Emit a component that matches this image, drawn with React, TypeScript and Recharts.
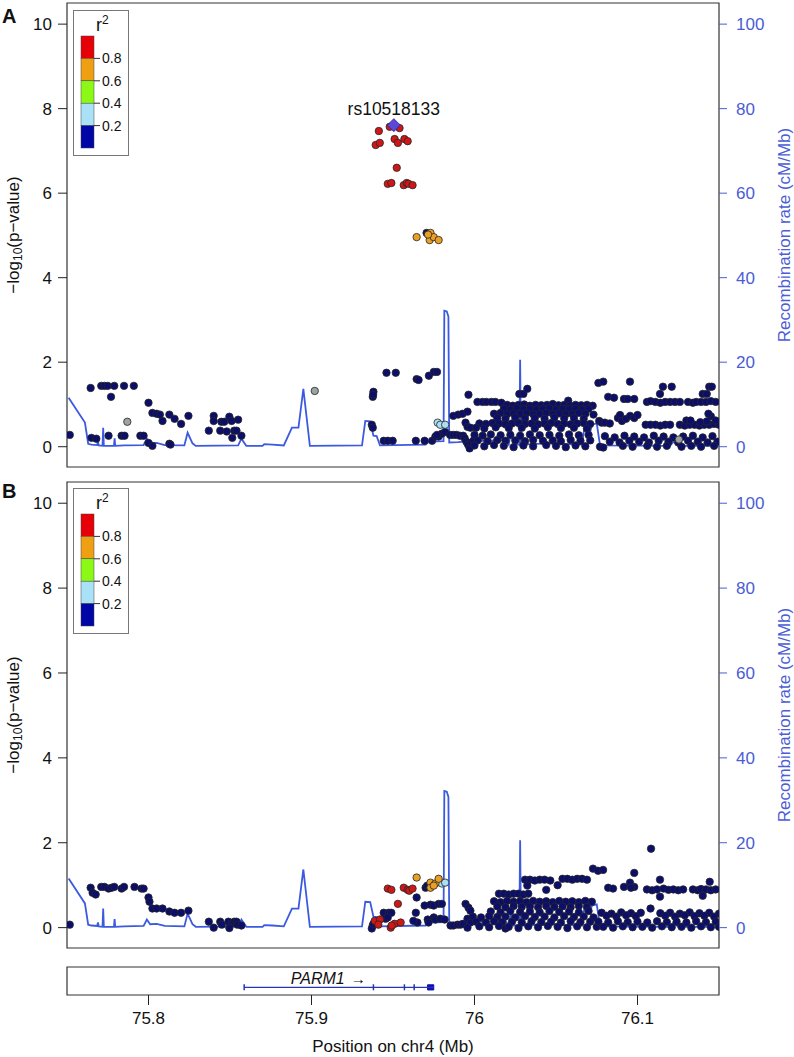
import React from 'react';
import { ComposedChart, Scatter, Line, XAxis, YAxis, ReferenceArea, ReferenceDot, Legend, Label } from 'recharts';

const FONT = '"Liberation Sans", Arial, Helvetica, sans-serif';
type P = [number, number];

// ---------- axes ----------
const xDomain: [number, number] = [75.75, 76.15];
const xTicks = [75.8, 75.9, 76, 76.1];
const pDomain: [number, number] = [-0.48, 10.5];
const pTicks = [0, 2, 4, 6, 8, 10];
const rDomain: [number, number] = [-4.8, 105];
const rTicks = [0, 20, 40, 60, 80, 100];
const legendLabels = ['0.8', '0.6', '0.4', '0.2'];
const legendColors = ['#e60008', '#ef9f12', '#8cf816', '#a9e1f7', '#0006a6'];

// ---------- recombination rate (cM/Mb) ----------
const recombPos = [75.751, 75.761, 75.763, 75.765, 75.7685, 75.769, 75.7695, 75.7718, 75.7722, 75.7726, 75.7788, 75.7792, 75.7796, 75.785, 75.797, 75.799, 75.801, 75.805, 75.81, 75.822, 75.824, 75.827, 75.829, 75.855, 75.857, 75.86, 75.87, 75.871, 75.876, 75.883, 75.888, 75.892, 75.895, 75.899, 75.931, 75.933, 75.936, 75.938, 75.94, 75.942, 75.97, 75.972, 75.981, 75.9815, 75.983, 75.984, 75.9845, 75.99, 75.997, 76.005, 76.019, 76.021, 76.0225, 76.024, 76.0275, 76.028, 76.0285, 76.045, 76.066, 76.068, 76.071, 76.072, 76.075, 76.077, 76.12, 76.122, 76.125, 76.15];
const recombRate = [11.6, 5.7, 0.7, 0.5, 0.4, 1.2, 0.3, 0.2, 4.5, 0.2, 0.2, 2.0, 0.2, 0.3, 0.4, 1.9, 0.8, 0.9, 0.4, 0.3, 3.3, 0.8, 0.2, 0.3, 1.9, 0.2, 0.2, 0.6, 0.5, 0.3, 4.5, 4.5, 13.7, 0.2, 0.3, 6.1, 6.0, 2.6, 2.5, 0.3, 0.5, 1.2, 1.3, 32.2, 32.0, 30.8, 1.0, 1.1, 1.3, 1.4, 1.6, 0.5, 4.0, 0.5, 0.5, 20.6, 0.5, 0.8, 0.5, 6.4, 3.5, 5.2, 5.5, 0.3, 0.2, 1.2, 0.2, 0.2];

// ---------- panel A ----------
const indexSnpName = 'rs10518133';
const A_index: P[] = [[75.9505, 7.61]];
const A_red: P[] = [[75.9413, 7.47], [75.948, 7.57], [75.954, 7.54], [75.9394, 7.14], [75.9419, 7.19], [75.951, 7.28], [75.953, 7.19], [75.957, 7.28], [75.959, 7.23], [75.9523, 6.6], [75.9468, 6.22], [75.949, 6.24], [75.9566, 6.19], [75.9584, 6.24], [75.9596, 6.22], [75.962, 6.19]];
const A_orange: P[] = [[75.9645, 4.96], [75.973, 5.06], [75.9725, 4.89], [75.975, 4.96], [75.978, 4.89], [75.9715, 5.02]];
const A_lblue: P[] = [[75.9774, 0.57], [75.979, 0.52], [75.982, 0.52]];
const A_gray: P[] = [[75.787, 0.59], [75.902, 1.32], [76.1254, 0.17]];
const A_navy: P[] = [
  [75.7517, 0.28], [75.7645, 1.39], [75.765, 0.21], [75.768, 0.19], [75.771, 1.44], [75.773, 1.44], [75.775, 1.44], [75.779, 1.44], [75.777, 1.18], [75.7755, 0.26], [75.7835, 0.26], [75.7853, 0.26], [75.785, 1.44], [75.791, 1.44], [75.795, 0.26], [75.797, 0.26], [75.8, 1.04], [75.8, 0.09], [75.8024, 0.02], [75.8024, 0.8], [75.805, 0.78], [75.807, 0.76], [75.8086, 0.61], [75.8128, 0.76], [75.816, 0.66], [75.82, 0.54], [75.8245, 0.73], [75.8128, 0.07], [75.8135, 0.05], [75.837, 0.38], [75.84, 0.73], [75.84, 0.61], [75.844, 0.38], [75.8447, 0.59], [75.8465, 0.59], [75.848, 0.36], [75.8496, 0.71], [75.851, 0.61], [75.8526, 0.38], [75.854, 0.38], [75.8514, 0.21], [75.855, 0.64], [75.857, 0.26],
  [75.9376, 1.18], [75.938, 1.3], [75.9378, 1.23], [75.937, 0.52], [75.9376, 0.45], [75.9443, 0.14], [75.9468, 0.14], [75.9498, 0.14], [75.946, 1.75], [75.9517, 1.75], [75.9645, 1.6], [75.9657, 1.58], [75.972, 1.68], [75.975, 1.77], [75.977, 1.77], [75.964, 0.14], [75.9694, 0.14], [75.974, 0.14], [75.976, 0.24], [75.978, 0.24], [75.98, 0.31], [75.982, 0.35], [75.977, 0.28], [75.9706, 5.06],
  [75.987, 0.73], [75.99, 0.76], [75.9927, 0.78], [75.9957, 0.83], [75.9963, 1.23], [75.9945, 0.57], [75.9957, 0.47], [75.9975, 0.45],
  [75.985, 0.28], [75.987, 0.28], [75.989, 0.28], [75.991, 0.26], [75.993, 0.26], [75.994, 0.2], [75.995, 0.12], [75.996, 0.05], [75.997, -0.04], [75.998, 0.1], [75.9995, 0.15],
  [76.0018, 1.06], [76.0049, 1.06], [76.0073, 1.06], [76.0104, 1.06], [76.0128, 1.06], [76.0165, 1.04], [76.0275, 1.25], [76.03, 1.25], [76.0324, 1.37], [76.0575, 1.09],
  [76.02, 0.99], [76.0235, 0.97], [76.027, 0.99], [76.0305, 1.0], [76.034, 0.97], [76.0375, 0.99], [76.041, 0.98], [76.0445, 0.99], [76.048, 1.01], [76.0515, 0.98], [76.055, 0.99], [76.0585, 0.97], [76.062, 0.99], [76.0655, 0.98], [76.069, 0.99], [76.0725, 0.97],
  [76.018, 0.9], [76.022, 0.88], [76.026, 0.91], [76.03, 0.89], [76.034, 0.9], [76.038, 0.88], [76.042, 0.9], [76.046, 0.91], [76.05, 0.88], [76.054, 0.9], [76.058, 0.89], [76.062, 0.9], [76.066, 0.88], [76.07, 0.9],
  [76.012, 0.78], [76.016, 0.8], [76.02, 0.77], [76.024, 0.79], [76.028, 0.78], [76.032, 0.8], [76.036, 0.77], [76.04, 0.78], [76.044, 0.8], [76.048, 0.78], [76.052, 0.79], [76.056, 0.77], [76.06, 0.78], [76.064, 0.8], [76.068, 0.78], [76.073, 0.76],
  [76.014, 0.68], [76.019, 0.66], [76.025, 0.69], [76.031, 0.67], [76.037, 0.68], [76.043, 0.66], [76.049, 0.69], [76.055, 0.67], [76.061, 0.68], [76.067, 0.66],
  [76.003, 0.55], [76.007, 0.54], [76.011, 0.56], [76.015, 0.55], [76.019, 0.53], [76.023, 0.55], [76.027, 0.56], [76.031, 0.54], [76.035, 0.55], [76.039, 0.53], [76.043, 0.55], [76.047, 0.56], [76.051, 0.54], [76.055, 0.55], [76.059, 0.53], [76.063, 0.55], [76.067, 0.56], [76.071, 0.54],
  [76.001, 0.45], [76.006, 0.43], [76.013, 0.46], [76.021, 0.44], [76.029, 0.45], [76.037, 0.43], [76.045, 0.46], [76.053, 0.44], [76.061, 0.45], [76.069, 0.43],
  [76.0, 0.28], [76.005, 0.26], [76.01, 0.29], [76.016, 0.27], [76.022, 0.28], [76.028, 0.26], [76.034, 0.29], [76.04, 0.27], [76.046, 0.28], [76.052, 0.26], [76.058, 0.29], [76.064, 0.27], [76.07, 0.28],
  [76.002, 0.15], [76.008, 0.13], [76.014, 0.16], [76.019, 0.14], [76.025, 0.15], [76.031, 0.13], [76.036, 0.16], [76.042, 0.14], [76.048, 0.15], [76.053, 0.13], [76.059, 0.16], [76.065, 0.14], [76.071, 0.15],
  [76.0, 0.03], [76.006, 0.01], [76.012, 0.04], [76.018, 0.02], [76.024, -0.01], [76.03, 0.03], [76.036, 0.01], [76.044, 0.04], [76.05, 0.02], [76.056, -0.01], [76.062, 0.03], [76.068, 0.01],
  [76.076, 1.51], [76.079, 1.54], [76.0954, 1.54], [76.1156, 1.42], [76.121, 1.42], [76.1138, 1.25], [76.144, 1.42], [76.1456, 1.42], [76.14, 1.25], [76.1425, 1.25],
  [76.082, 1.18], [76.0856, 1.16], [76.0917, 1.13], [76.094, 1.13], [76.098, 1.13],
  [76.1058, 1.06], [76.108, 1.08], [76.111, 1.06], [76.114, 1.04], [76.117, 1.06], [76.12, 1.06], [76.123, 1.06], [76.126, 1.06], [76.131, 1.06], [76.134, 1.04], [76.136, 1.06], [76.139, 1.06], [76.142, 1.06], [76.145, 1.08], [76.148, 1.06],
  [76.088, 0.68], [76.0893, 0.75], [76.0905, 0.61], [76.093, 0.66], [76.0955, 0.73], [76.098, 0.68], [76.1, 0.75], [76.0765, 0.61], [76.078, 0.57], [76.08, 0.57], [76.083, 0.55],
  [76.105, 0.52], [76.108, 0.52], [76.111, 0.52], [76.114, 0.5], [76.117, 0.52], [76.12, 0.52], [76.126, 0.52], [76.129, 0.5], [76.132, 0.52], [76.135, 0.52], [76.138, 0.5], [76.141, 0.52], [76.144, 0.52], [76.147, 0.54], [76.15, 0.52],
  [76.13, 0.62], [76.1325, 0.62], [76.1385, 0.58], [76.1425, 0.6], [76.145, 0.72], [76.148, 0.62], [76.1435, 0.78],
  [76.08, 0.25], [76.086, 0.22], [76.092, 0.26], [76.098, 0.24], [76.104, 0.22], [76.11, 0.26], [76.116, 0.24], [76.122, 0.22], [76.128, 0.24], [76.134, 0.26], [76.14, 0.22], [76.146, 0.25],
  [76.083, 0.12], [76.089, 0.1], [76.095, 0.14], [76.101, 0.12], [76.107, 0.1], [76.113, 0.14], [76.119, 0.12], [76.125, 0.1], [76.131, 0.14], [76.137, 0.12], [76.143, 0.1], [76.149, 0.12],
  [76.077, 0.0], [76.079, -0.02], [76.091, 0.02], [76.097, 0.0], [76.106, 0.02], [76.112, 0.0], [76.118, 0.02], [76.127, 0.0], [76.133, 0.02], [76.139, 0.0], [76.147, 0.02],
];

// ---------- panel B ----------
const B_red: P[] = [[75.9468, 0.92], [75.949, 0.89], [75.9566, 0.94], [75.959, 0.89], [75.96, 0.87], [75.962, 0.92], [75.953, 0.56], [75.9388, 0.16], [75.942, 0.19], [75.941, 0.07], [75.9486, 0.0], [75.951, 0.09], [75.9547, 0.12], [75.9492, 0.05]];
const B_orange: P[] = [[75.9645, 1.18], [75.973, 1.06], [75.976, 1.04], [75.978, 1.15], [75.973, 0.94], [75.975, 0.99]];
const B_lblue: P[] = [[75.98, 1.04], [75.982, 1.06]];
const B_navy: P[] = [
  [75.7517, 0.07], [75.7645, 0.94], [75.7657, 0.82], [75.7676, 0.78], [75.771, 0.96], [75.773, 0.96], [75.7755, 0.92], [75.7774, 0.94], [75.779, 0.96], [75.7835, 0.92], [75.785, 0.96], [75.7914, 0.96], [75.7957, 0.92], [75.797, 0.92], [75.8, 0.71], [75.8006, 0.61], [75.8024, 0.45], [75.805, 0.45], [75.8086, 0.45], [75.8128, 0.38], [75.816, 0.35], [75.82, 0.35], [75.8245, 0.4], [75.837, 0.14], [75.84, 0.0], [75.844, 0.14], [75.845, 0.07], [75.849, 0.14], [75.851, 0.09], [75.8526, 0.14], [75.854, 0.14], [75.8496, -0.01], [75.8545, 0.07], [75.857, 0.05],
  [75.9376, 0.05], [75.937, -0.02], [75.9443, 0.35], [75.9474, 0.35], [75.949, 0.35], [75.9455, 0.21], [75.9468, 0.24], [75.938, 0.09], [75.9645, 0.71], [75.964, 0.35], [75.965, 0.12], [75.9694, 0.52], [75.973, 0.54], [75.975, 0.52], [75.978, 0.56], [75.98, 0.56], [75.9713, 0.19], [75.975, 0.24], [75.976, 0.19], [75.979, 0.21], [75.9817, 0.19], [75.9718, 0.12], [75.9625, 0.16], [75.97, 0.94], [75.971, 0.99],
  [75.9853, 0.05], [75.987, 0.05], [75.9896, 0.07], [75.9914, 0.07], [75.993, 0.09], [75.9945, 0.56], [75.9963, 0.47], [75.9975, 0.4], [75.9957, 0.21], [75.9975, 0.12], [75.9957, 0.0], [76.019, -0.02],
  [76.031, 1.13], [76.034, 1.13], [76.037, 1.11], [76.04, 1.13], [76.043, 1.13], [76.0465, 1.11], [76.051, 1.0], [76.054, 1.15], [76.057, 1.15], [76.06, 1.13], [76.063, 1.15], [76.066, 1.15], [76.069, 1.13], [76.044, 0.89], [76.0324, 0.99],
  [76.015, 0.8], [76.018, 0.8], [76.021, 0.78], [76.024, 0.8], [76.027, 0.8], [76.03, 0.78], [76.033, 0.8],
  [76.012, 0.62], [76.016, 0.6], [76.02, 0.63], [76.024, 0.61], [76.028, 0.62], [76.032, 0.6], [76.036, 0.63], [76.04, 0.61], [76.044, 0.62], [76.048, 0.6], [76.052, 0.63], [76.056, 0.61], [76.06, 0.62], [76.064, 0.6], [76.068, 0.63], [76.072, 0.61],
  [76.014, 0.5], [76.019, 0.48], [76.024, 0.51], [76.029, 0.49], [76.034, 0.5], [76.039, 0.48], [76.044, 0.51], [76.049, 0.49], [76.054, 0.5], [76.059, 0.48], [76.064, 0.51], [76.069, 0.49],
  [76.01, 0.38], [76.016, 0.36], [76.022, 0.39], [76.028, 0.37], [76.034, 0.38], [76.04, 0.36], [76.046, 0.39], [76.052, 0.37], [76.058, 0.38], [76.064, 0.36], [76.07, 0.39],
  [75.999, 0.26], [76.004, 0.24], [76.009, 0.27], [76.014, 0.25], [76.019, 0.26], [76.025, 0.24], [76.031, 0.27], [76.037, 0.25], [76.043, 0.26], [76.049, 0.24], [76.055, 0.27], [76.061, 0.25], [76.067, 0.26], [76.073, 0.24],
  [76.001, 0.14], [76.007, 0.12], [76.012, 0.15], [76.017, 0.13], [76.023, 0.14], [76.029, 0.12], [76.035, 0.15], [76.041, 0.13], [76.047, 0.14], [76.053, 0.12], [76.059, 0.15], [76.065, 0.13], [76.071, 0.14],
  [76.003, 0.03], [76.009, 0.01], [76.015, 0.04], [76.021, 0.02], [76.027, -0.01], [76.033, 0.03], [76.039, 0.01], [76.045, 0.04], [76.051, 0.02], [76.057, -0.01], [76.063, 0.03], [76.069, 0.01], [76.075, 0.02],
  [76.0727, 1.39], [76.0758, 1.34], [76.0789, 1.36], [76.098, 1.29], [76.1083, 1.86], [76.082, 0.94], [76.085, 0.92], [76.0917, 0.96], [76.0954, 1.06], [76.098, 0.96], [76.096, 0.94], [76.1138, 1.13], [76.1138, 0.73], [76.1443, 1.08], [76.14, 0.75],
  [76.1058, 0.9], [76.109, 0.88], [76.112, 0.9], [76.116, 0.92], [76.119, 0.89], [76.122, 0.9], [76.125, 0.88], [76.128, 0.9], [76.134, 0.9], [76.137, 0.88], [76.139, 0.91], [76.142, 0.9], [76.145, 0.88], [76.148, 0.9],
  [76.078, 0.35], [76.084, 0.33], [76.09, 0.36], [76.096, 0.34], [76.102, 0.35], [76.108, 0.45], [76.114, 0.34], [76.12, 0.35], [76.126, 0.33], [76.132, 0.36], [76.138, 0.34], [76.144, 0.35], [76.15, 0.33],
  [76.081, 0.28], [76.087, 0.26], [76.093, 0.29], [76.099, 0.27], [76.117, 0.28], [76.123, 0.26], [76.129, 0.29], [76.135, 0.27], [76.141, 0.28], [76.147, 0.26],
  [76.076, 0.14], [76.082, 0.12], [76.088, 0.15], [76.094, 0.13], [76.1, 0.14], [76.106, 0.12], [76.112, 0.15], [76.118, 0.13], [76.124, 0.14], [76.13, 0.12], [76.136, 0.15], [76.142, 0.13], [76.148, 0.14],
  [76.079, 0.02], [76.085, 0.0], [76.091, 0.03], [76.097, 0.01], [76.103, 0.02], [76.109, 0.0], [76.115, 0.03], [76.121, 0.01], [76.127, 0.02], [76.133, 0.0], [76.139, 0.03], [76.145, 0.01], [76.15, 0.02],
];
const B_gray: P[] = [];

// ---------- gene track ----------
const geneName = 'PARM1';
const geneBody: P[] = [[75.8587, -0.45], [75.975, -0.45]];
const geneExons: P[] = [[75.8587, -0.45], [75.938, -0.45], [75.957, -0.45], [75.963, -0.45]];
const geneCoding: [number, number] = [75.9712, 75.975];
const geneLabelAt: P = [75.8873, -0.21];

// ---------- styles ----------
const C_NAVY = '#0c0e6c';
const C_RED = '#cf1717';
const C_ORANGE = '#e9a024';
const C_LBLUE = '#aadff2';
const C_GRAY = '#9ba3a3';
const C_RECOMB = '#3c5ae0';
const C_BLUE_TEXT = '#4a5dd6';

const toPts = (arr: P[]) => arr.map(([x, y]) => ({ x, y }));
const recombData = recombPos.map((x, i) => ({ x, rate: recombRate[i] }));

const circleShape = (fill: string) => (props: any) => {
  const { cx, cy } = props;
  if (typeof cx !== 'number' || typeof cy !== 'number') return <g />;
  return <circle cx={cx} cy={cy} r={3.7} fill={fill} stroke="#262626" strokeWidth={0.8} />;
};
const diamondShape = (props: any) => {
  const { cx, cy } = props;
  if (typeof cx !== 'number' || typeof cy !== 'number') return <g />;
  const s = 6.5;
  return <polygon points={`${cx},${cy - s} ${cx + s},${cy} ${cx},${cy + s} ${cx - s},${cy}`} fill="#5a48d8" stroke="#2b1f88" strokeWidth={0.8} />;
};
const exonShape = (props: any) => {
  const { cx, cy } = props;
  if (typeof cx !== 'number' || typeof cy !== 'number') return <g />;
  return <line x1={cx} x2={cx} y1={cy - 3} y2={cy + 3} stroke="#2535b8" strokeWidth={1.5} />;
};

const LegendBox = () => (
  <svg width={57} height={147} style={{ display: 'block' }}>
    <rect x={0.5} y={0.5} width={55} height={145} fill="#fff" stroke="#777" strokeWidth={1} />
    <text x={23} y={21} fontFamily={FONT} fontSize={18} fill="#111">r<tspan fontSize={12} dy={-7}>2</tspan></text>
    {legendColors.map((c, i) => (
      <rect key={c} x={8} y={26 + i * 22.4} width={13} height={22.4} fill={c} stroke="#444" strokeWidth={0.5} />
    ))}
    {legendLabels.map((l, i) => {
      const y = 26 + (i + 1) * 22.4;
      return (
        <g key={l}>
          <line x1={21} x2={27} y1={y} y2={y} stroke="#333" strokeWidth={1} />
          <text x={29} y={y} dominantBaseline="central" fontSize={14} fontFamily={FONT} fill="#111">{l}</text>
        </g>
      );
    })}
  </svg>
);

const LeftTitle = (props: any) => {
  const vb = props.viewBox || {};
  const cy = (vb.y ?? 0) + (vb.height ?? 0) / 2;
  return (
    <text transform={`translate(13,${cy}) rotate(-90)`} textAnchor="middle" dominantBaseline="central" fontSize={17} fontFamily={FONT} fill="#111">
      −log<tspan fontSize={12} dy={5}>10</tspan><tspan dy={-5}>(p−value)</tspan>
    </text>
  );
};
const RightTitle = (props: any) => {
  const vb = props.viewBox || {};
  const cy = (vb.y ?? 0) + (vb.height ?? 0) / 2;
  return (
    <text transform={`translate(784,${cy}) rotate(-90)`} textAnchor="middle" dominantBaseline="central" fontSize={17} fontFamily={FONT} fill={C_BLUE_TEXT}>
      Recombination rate (cM/Mb)
    </text>
  );
};

type PanelProps = {
  top: number; mTop: number; mBottom: number; legendTop: number;
  navy: P[]; red: P[]; orange: P[]; lblue: P[]; gray: P[]; index?: P[]; indexName?: string;
};

const Panel = ({ top, mTop, mBottom, legendTop, navy, red, orange, lblue, gray, index, indexName }: PanelProps) => (
  <div style={{ position: 'absolute', left: 0, top, width: 794, height: 470 }}>
    <ComposedChart width={794} height={470} margin={{ top: mTop, right: 0, bottom: mBottom, left: 0 }}>
      <XAxis type="number" dataKey="x" domain={xDomain} hide allowDataOverflow />
      <YAxis yAxisId="p" type="number" dataKey="y" domain={pDomain} ticks={pTicks} width={67} allowDataOverflow
        axisLine={false} tickSize={9} tickMargin={6} tickLine={{ stroke: '#222' }} interval={0}
        tick={{ fill: '#111', fontSize: 17, fontFamily: FONT }}>
        <Label content={LeftTitle} />
      </YAxis>
      <YAxis yAxisId="r" orientation="right" type="number" dataKey="rate" domain={rDomain} ticks={rTicks} width={75} allowDataOverflow
        axisLine={false} tickSize={8} tickMargin={9} tickLine={{ stroke: C_BLUE_TEXT }} interval={0}
        tick={{ fill: C_BLUE_TEXT, fontSize: 17, fontFamily: FONT }}>
        <Label content={RightTitle} />
      </YAxis>
      <ReferenceArea yAxisId="p" x1={xDomain[0]} x2={xDomain[1]} y1={pDomain[0]} y2={pDomain[1]} fill="#fff" fillOpacity={0} stroke="#333" strokeWidth={1.2} ifOverflow="visible" />
      <Scatter yAxisId="p" data={toPts(navy)} shape={circleShape(C_NAVY)} isAnimationActive={false} />
      <Line yAxisId="r" data={recombData} dataKey="rate" type="linear" stroke={C_RECOMB} strokeWidth={1.8} dot={false} activeDot={false} isAnimationActive={false} />
      <Scatter yAxisId="p" data={toPts(gray)} shape={circleShape(C_GRAY)} isAnimationActive={false} />
      <Scatter yAxisId="p" data={toPts(lblue)} shape={circleShape(C_LBLUE)} isAnimationActive={false} />
      <Scatter yAxisId="p" data={toPts(orange)} shape={circleShape(C_ORANGE)} isAnimationActive={false} />
      <Scatter yAxisId="p" data={toPts(red)} shape={circleShape(C_RED)} isAnimationActive={false} />
      {index && <Scatter yAxisId="p" data={toPts(index)} shape={diamondShape} isAnimationActive={false} />}
      {index && indexName && (
        <ReferenceDot yAxisId="p" x={index[0][0]} y={index[0][1]} r={0} stroke="none" fill="none"
          label={{ value: indexName, position: 'top', offset: 10, fill: '#111', fontSize: 17.5, fontFamily: FONT }} />
      )}
      <Legend layout="vertical" align="center" verticalAlign="middle"
        wrapperStyle={{ left: 73, top: legendTop, width: 57, height: 147, right: 'auto', bottom: 'auto' }}
        content={() => <LegendBox />} />
    </ComposedChart>
  </div>
);

const BottomTitle = (props: any) => {
  const vb = props.viewBox || {};
  return (
    <text x={(vb.x ?? 0) + (vb.width ?? 0) / 2} y={(vb.y ?? 0) + 57} textAnchor="middle" fontSize={17} fontFamily={FONT} fill="#111">
      Position on chr4 (Mb)
    </text>
  );
};
const GeneLabel = (props: any) => {
  const vb = props.viewBox || {};
  return (
    <text x={vb.x ?? 0} y={vb.y ?? 0} fontSize={16} fontFamily={FONT} fill="#111">
      <tspan fontStyle="italic">{geneName}</tspan><tspan dx={6} fontSize={15}>→</tspan>
    </text>
  );
};

const GeneTrack = () => (
  <div style={{ position: 'absolute', left: 0, top: 960, width: 794, height: 97 }}>
    <ComposedChart width={794} height={97} margin={{ top: 7, right: 75, bottom: 0, left: 67 }}>
      <XAxis type="number" dataKey="x" domain={xDomain} ticks={xTicks} height={62} allowDataOverflow interval={0}
        axisLine={false} tickSize={10} tickMargin={7} tickLine={{ stroke: '#222' }}
        tick={{ fill: '#111', fontSize: 17, fontFamily: FONT }} tickFormatter={(v: number) => String(v)}>
        <Label content={BottomTitle} />
      </XAxis>
      <YAxis type="number" dataKey="y" domain={[-1, 1]} hide allowDataOverflow />
      <ReferenceArea x1={xDomain[0]} x2={xDomain[1]} y1={-1} y2={1} fill="#fff" fillOpacity={0} stroke="#333" strokeWidth={1.2} ifOverflow="visible" />
      <Line data={toPts(geneBody)} dataKey="y" type="linear" stroke="#2535b8" strokeWidth={1.3} dot={false} activeDot={false} isAnimationActive={false} />
      <Scatter data={toPts(geneExons)} shape={exonShape} isAnimationActive={false} />
      <ReferenceArea x1={geneCoding[0]} x2={geneCoding[1]} y1={-0.64} y2={-0.27} fill="#1010b0" fillOpacity={1} stroke="#1010b0" />
      <ReferenceDot x={geneLabelAt[0]} y={geneLabelAt[1]} r={0} stroke="none" fill="none" label={<Label content={GeneLabel} />} />
    </ComposedChart>
  </div>
);

export default function App() {
  return (
    <div style={{ position: 'absolute', left: 0, top: 0, width: 794, height: 1057, background: '#fff', fontFamily: FONT }}>
      <Panel top={0} mTop={3} mBottom={3} legendTop={10} navy={A_navy} red={A_red} orange={A_orange} lblue={A_lblue} gray={A_gray} index={A_index} indexName={indexSnpName} />
      <Panel top={479} mTop={3} mBottom={1} legendTop={9} navy={B_navy} red={B_red} orange={B_orange} lblue={B_lblue} gray={B_gray} />
      <GeneTrack />
      <svg width={30} height={1057} style={{ position: 'absolute', left: 0, top: 0, pointerEvents: 'none' }}>
        <text x={2} y={23} fontSize={20} fontWeight="bold" fontFamily={FONT} fill="#111">A</text>
        <text x={2} y={498} fontSize={20} fontWeight="bold" fontFamily={FONT} fill="#111">B</text>
      </svg>
    </div>
  );
}
